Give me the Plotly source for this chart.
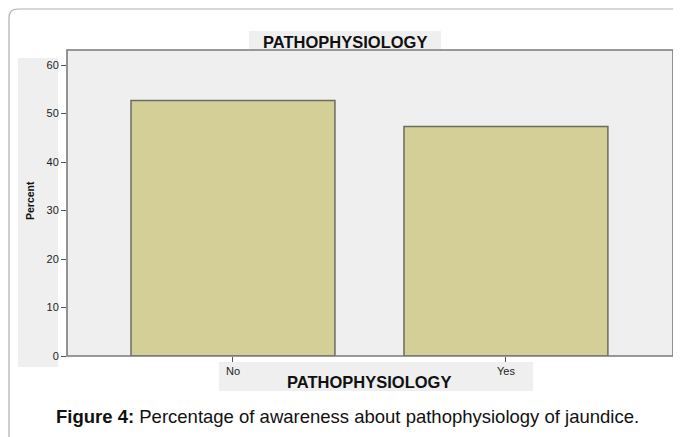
import plotly.graph_objects as go

categories = ["No", "Yes"]
percent = [52.7, 47.3]
y_ticks = [0, 10, 20, 30, 40, 50, 60]
title_text = "PATHOPHYSIOLOGY"
y_title = "Percent"
caption = "<b>Figure 4:</b> Percentage of awareness about pathophysiology of jaundice."

# page body has an 8px margin; work in screen pixels and shift
OFF = 8
W, H = 681 - OFF, 437 - OFF
L, R, T, B = 67, 673, 50, 356  # plot area in screen pixels
PW, PH = R - L, B - T

def px(x):
    return (x - L) / PW

def py(y):
    return (B - y) / PH

FONT = "Arial, Liberation Sans, Helvetica, sans-serif"

fig = go.Figure()
fig.add_trace(go.Bar(
    x=[0, 1], y=percent,
    width=0.747,
    marker=dict(color="#d3cf97", line=dict(color="#6b6b60", width=1.5)),
    hoverinfo="skip",
))

shapes = []
# gray label boxes
for (x0, y0, x1, y1) in [(18, 58, 58, 367), (249, 31, 441, 49), (219, 362, 533, 391)]:
    shapes.append(dict(type="rect", xref="paper", yref="paper", layer="below",
                       x0=px(x0), x1=px(x1), y0=py(y1), y1=py(y0),
                       fillcolor="#efefef", line=dict(width=0)))
# plot frame
shapes.append(dict(type="rect", xref="paper", yref="paper", layer="above",
                   x0=0, x1=1, y0=0, y1=1,
                   line=dict(color="#7a7a7a", width=1.6)))
# outer rounded frame (top-left corner)
r = 9
path = (f"M {px(9)},{py(440)} L {px(9)},{py(9 + r)} "
        f"Q {px(9)},{py(9)} {px(9 + r)},{py(9)} L {px(685)},{py(9)}")
shapes.append(dict(type="path", xref="paper", yref="paper", path=path,
                   line=dict(color="#b0b0b0", width=1.2)))

annotations = [
    dict(text=f"<b>{title_text}</b>", x=px(345), y=py(42), xref="paper", yref="paper",
         showarrow=False, font=dict(family=FONT, size=16.5, color="#111"),
         xanchor="center", yanchor="middle"),
    dict(text=f"<b>{title_text}</b>", x=px(369), y=py(382), xref="paper", yref="paper",
         showarrow=False, font=dict(family=FONT, size=16.5, color="#111"),
         xanchor="center", yanchor="middle"),
    dict(text=f"<b>{y_title}</b>", x=px(30), y=py(201), xref="paper", yref="paper",
         showarrow=False, textangle=-90, font=dict(family=FONT, size=10.5, color="#111"),
         xanchor="center", yanchor="middle"),
    dict(text=caption, x=px(347), y=py(416), xref="paper", yref="paper",
         showarrow=False, font=dict(family=FONT, size=18.5, color="#111"),
         xanchor="center", yanchor="middle"),
]

fig.update_layout(
    width=W, height=H,
    margin=dict(l=L - OFF, r=681 - R, t=T - OFF, b=437 - B, pad=0),
    paper_bgcolor="white", plot_bgcolor="#efefef",
    showlegend=False,
    shapes=shapes, annotations=annotations,
    xaxis=dict(range=[-0.608, 1.612], tickmode="array", tickvals=[0, 1],
               ticktext=categories, ticks="outside", ticklen=5, tickcolor="#555",
               tickfont=dict(family=FONT, size=11, color="#222"),
               showgrid=False, zeroline=False, showline=False, fixedrange=True),
    yaxis=dict(range=[0, 63.1], tickmode="array", tickvals=y_ticks,
               ticks="outside", ticklen=5, tickcolor="#555",
               tickfont=dict(family=FONT, size=11, color="#222"),
               showgrid=False, zeroline=False, showline=False, fixedrange=True),
)

fig.write_html("out.html")
